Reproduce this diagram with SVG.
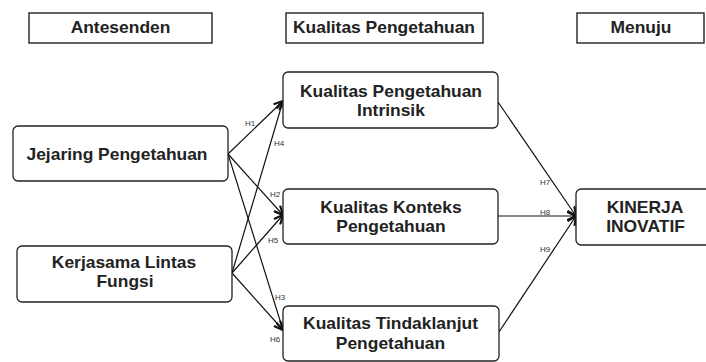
<svg xmlns="http://www.w3.org/2000/svg" width="706" height="362" viewBox="0 0 706 362">
<style>
.hdr{fill:#fff;stroke:#222;stroke-width:1.4}
.node{fill:#fff;stroke:#222;stroke-width:1.3}
.t{font-family:"Liberation Sans",Arial,sans-serif;font-weight:bold;font-size:16px;fill:#222;text-anchor:middle}
.lbl{font-family:"Liberation Sans",Arial,sans-serif;font-size:8px;fill:#333}
.edge{stroke:#111;stroke-width:1.2;fill:none;marker-end:url(#ah)}
</style>
<defs>
<marker id="ah" viewBox="0 0 10 10" refX="9.5" refY="5" markerWidth="10" markerHeight="10" orient="auto" markerUnits="userSpaceOnUse">
<path d="M0.5,0.8 L9.5,5 L0.5,9.2" fill="none" stroke="#111" stroke-width="2.2"/>
</marker>
</defs>
<rect width="706" height="362" fill="#fff"/>
<g id="hdr-antesenden">
<rect class="hdr" x="29" y="13" width="183" height="30"/>
<text class="t" transform="translate(120.5 33) scale(1.09 1)">Antesenden</text>
</g>
<g id="hdr-kualitas">
<rect class="hdr" x="286" y="13" width="197" height="30"/>
<text class="t" transform="translate(384 33) scale(1.09 1)">Kualitas Pengetahuan</text>
</g>
<g id="hdr-menuju">
<rect class="hdr" x="577" y="13" width="127" height="30"/>
<text class="t" transform="translate(641 33) scale(1.09 1)">Menuju</text>
</g>
<g id="connectors">
<line class="edge" x1="228" y1="154" x2="283" y2="101"/>
<line class="edge" x1="228" y1="154" x2="283" y2="215"/>
<line class="edge" x1="228" y1="154" x2="283" y2="330"/>
<line class="edge" x1="232" y1="273" x2="283" y2="101"/>
<line class="edge" x1="232" y1="273" x2="283" y2="215"/>
<line class="edge" x1="232" y1="273" x2="283" y2="330"/>
<line class="edge" x1="498" y1="102" x2="576" y2="216"/>
<line class="edge" x1="498" y1="216" x2="576" y2="216"/>
<line class="edge" x1="499" y1="332" x2="576" y2="216"/>
<text class="lbl" x="245" y="126">H1</text>
<text class="lbl" x="274" y="146">H4</text>
<text class="lbl" x="270" y="197">H2</text>
<text class="lbl" x="268" y="243">H5</text>
<text class="lbl" x="275" y="300">H3</text>
<text class="lbl" x="270" y="342">H6</text>
<text class="lbl" x="540" y="185">H7</text>
<text class="lbl" x="540" y="215">H8</text>
<text class="lbl" x="540" y="252">H9</text>
</g>
<g id="jejaring">
<rect class="node" x="13" y="126" width="215" height="55" rx="5"/>
<text class="t" transform="translate(117 160) scale(1.09 1)">Jejaring Pengetahuan</text>
</g>
<g id="kerjasama">
<rect class="node" x="17" y="246" width="215" height="56" rx="5"/>
<text class="t" transform="translate(124 268) scale(1.09 1)">Kerjasama Lintas</text>
<text class="t" transform="translate(125 287) scale(1.09 1)">Fungsi</text>
</g>
<g id="intrinsik">
<rect class="node" x="283" y="72" width="215" height="56" rx="5"/>
<text class="t" transform="translate(391 97) scale(1.09 1)">Kualitas Pengetahuan</text>
<text class="t" transform="translate(391 116) scale(1.09 1)">Intrinsik</text>
</g>
<g id="konteks">
<rect class="node" x="283" y="189" width="215" height="55" rx="5"/>
<text class="t" transform="translate(391 213) scale(1.09 1)">Kualitas Konteks</text>
<text class="t" transform="translate(391 232) scale(1.09 1)">Pengetahuan</text>
</g>
<g id="tindaklanjut">
<rect class="node" x="283" y="306" width="216" height="55" rx="5"/>
<text class="t" transform="translate(390.5 329) scale(1.09 1)">Kualitas Tindaklanjut</text>
<text class="t" transform="translate(390.5 349) scale(1.09 1)">Pengetahuan</text>
</g>
<g id="kinerja">
<rect class="node" x="576" y="189" width="140" height="56" rx="5"/>
<text class="t" transform="translate(645 213) scale(1.09 1)">KINERJA</text>
<text class="t" transform="translate(645.5 232) scale(1.09 1)">INOVATIF</text>
</g>
</svg>
